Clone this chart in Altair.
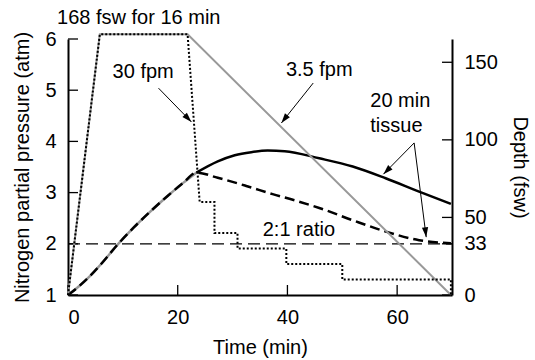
import altair as alt
import pandas as pd

# ---------------- data ----------------
# depth profiles (fsw) vs time (min)
time_direct = [0, 5.8, 21.8, 69.8]
depth_direct = [0, 168, 168, 0]

time_staged = [0, 5.8, 21.8, 24.0, 26.7, 26.7, 30.9, 30.9, 39.8, 39.8, 50.0, 50.0, 69.8, 69.8]
depth_staged = [0, 168, 168, 60, 60, 40, 40, 30, 30, 20, 20, 10, 10, 0]

# 20-min tissue nitrogen pressure (atm): common part, then the two branches
time_common = [0, 2, 4, 6, 9, 12, 15, 18, 21, 23.4]
pn2_common = [1.0, 1.17, 1.37, 1.60, 1.98, 2.32, 2.63, 2.92, 3.19, 3.39]

time_solid = [23.4, 27.3, 30.4, 33.4, 36.4, 39.5, 45.8, 51.9, 57.9, 64.0, 69.8]
pn2_solid = [3.39, 3.61, 3.73, 3.79, 3.82, 3.81, 3.67, 3.51, 3.28, 3.02, 2.78]

time_dashed = [23.4, 27.3, 32.5, 37.3, 41.6, 45.8, 51.9, 57.9, 64.0, 69.8]
pn2_dashed = [3.39, 3.29, 3.13, 2.97, 2.84, 2.70, 2.46, 2.24, 2.07, 2.01]

ratio_time = [0, 70]
ratio_pn2 = [2, 2]

# axis ticks
time_ticks = [0, 20, 40, 60]
pn2_ticks = [1, 2, 3, 4, 5, 6]
depth_ticks = [0, 33, 50, 100, 150]

# annotation texts and anchors (data units)
center_labels = ["168 fsw for 16 min", "30 fpm", "3.5 fpm"]
center_t = [12.9, 13.7, 45.8]
center_p = [6.41, 5.36, 5.39]

left_labels = ["20 min", "tissue", "2:1 ratio"]
left_t = [55.1, 55.1, 35.5]
left_p = [4.79, 4.30, 2.27]

arrow_t0 = [16.5, 44.7, 63.1, 63.1]
arrow_p0 = [5.04, 5.14, 3.97, 3.97]
arrow_t1 = [22.5, 38.9, 57.5, 65.3]
arrow_p1 = [4.38, 4.36, 3.36, 2.13]
arrow_angles = [136, 218, 225, 173]

# ---------------- frames ----------------
df_direct = pd.DataFrame({"t": time_direct, "d": depth_direct})
df_staged = pd.DataFrame({"t": time_staged, "d": depth_staged, "o": range(len(time_staged))})
df_common = pd.DataFrame({"t": time_common, "p": pn2_common})
df_solid = pd.DataFrame({"t": time_solid, "p": pn2_solid})
df_dashed = pd.DataFrame({"t": time_common + time_dashed[1:], "p": pn2_common + pn2_dashed[1:]})
df_ratio = pd.DataFrame({"t": ratio_time, "p": ratio_pn2})
df_center = pd.DataFrame({"txt": center_labels, "t": center_t, "p": center_p})
df_left = pd.DataFrame({"txt": left_labels, "t": left_t, "p": left_p})
df_arrow = pd.DataFrame({"t": arrow_t0, "p": arrow_p0, "t1": arrow_t1, "p1": arrow_p1})
df_heads = pd.DataFrame({"t": arrow_t1, "p": arrow_p1})

FONT = "Liberation Sans"
W, H = 384, 256

xs = alt.Scale(domain=[0, 70], nice=False, zero=False)
ps = alt.Scale(domain=[1, 6], nice=False, zero=False)
ds = alt.Scale(domain=[0, 165], nice=False, zero=False)

X_AXIS = alt.Axis(values=time_ticks, title="Time (min)", ticks=False, tickSize=0,
                  labelPadding=12, titlePadding=10, grid=False)
P_AXIS = alt.Axis(values=pn2_ticks, title="Nitrogen partial pressure (atm)", orient="left",
                  ticks=False, tickSize=0, labelPadding=12, titlePadding=12, grid=False)
D_AXIS = alt.Axis(values=depth_ticks, title="Depth (fsw)", orient="right",
                  ticks=False, tickSize=0, labelPadding=12, titlePadding=12, grid=False)


def X(field="t"):
    return alt.X(f"{field}:Q", scale=xs, axis=X_AXIS)


def YP(field="p"):
    return alt.Y(f"{field}:Q", scale=ps, axis=P_AXIS)


def YD(field="d"):
    return alt.Y(f"{field}:Q", scale=ds, axis=D_AXIS)


# ---------------- pressure (left) group ----------------
common = alt.Chart(df_common).mark_line(color="#999999", strokeWidth=2.5, interpolate="monotone").encode(
    x=X(), y=YP())
solid = alt.Chart(df_solid).mark_line(color="black", strokeWidth=2.5, interpolate="monotone").encode(
    x=X(), y=YP())
dashed = alt.Chart(df_dashed).mark_line(color="black", strokeWidth=2.5, strokeDash=[10, 5],
                                        interpolate="monotone").encode(x=X(), y=YP())
ratio = alt.Chart(df_ratio).mark_line(color="black", strokeWidth=1.2, strokeDash=[12, 6]).encode(
    x=X(), y=YP())

txt_c = alt.Chart(df_center).mark_text(font=FONT, fontSize=20, align="center", baseline="middle",
                                       color="black").encode(x=X(), y=YP(), text="txt:N")
txt_l = alt.Chart(df_left).mark_text(font=FONT, fontSize=20, align="left", baseline="middle",
                                     color="black").encode(x=X(), y=YP(), text="txt:N")

arrows = alt.Chart(df_arrow).mark_rule(color="black", strokeWidth=1).encode(
    x=X(), y=YP(), x2="t1:Q", y2="p1:Q")

HEAD = "M0,0L-0.32,1L0.32,1Z"
heads = []
for i in range(len(arrow_t1)):
    heads.append(
        alt.Chart(df_heads.iloc[[i]]).mark_point(shape=HEAD, filled=True, color="black", opacity=1,
                                                 size=380, angle=arrow_angles[i], strokeWidth=0).encode(
            x=X(), y=YP()))

tick_left = alt.Chart(pd.DataFrame({"p": pn2_ticks})).mark_rule(color="black", strokeWidth=1.3).encode(
    y=YP(), x=alt.value(0), x2=alt.value(10))
tick_bottom = alt.Chart(pd.DataFrame({"t": time_ticks})).mark_rule(color="black", strokeWidth=1.3).encode(
    x=X(), y=alt.value(H), y2=alt.value(H - 10))

left_group = alt.layer(common, solid, dashed, ratio, txt_c, txt_l, arrows, *heads, tick_left, tick_bottom)

# ---------------- depth (right) group ----------------
direct = alt.Chart(df_direct).mark_line(color="#999999", strokeWidth=2).encode(x=X(), y=YD())
staged = alt.Chart(df_staged).mark_line(color="black", strokeWidth=2, strokeDash=[2, 2]).encode(
    x=X(), y=YD(), order="o:Q")
tick_right = alt.Chart(pd.DataFrame({"d": depth_ticks})).mark_rule(color="black", strokeWidth=1.3).encode(
    y=YD(), x=alt.value(W), x2=alt.value(W - 10))

right_group = alt.layer(direct, staged, tick_right)

chart = alt.layer(left_group, right_group).resolve_scale(y="independent").properties(
    width=W, height=H,
    autosize=alt.AutoSizeParams(type="none"),
    padding={"left": 68, "top": 39, "right": 83, "bottom": 65},
).configure_view(stroke=None).configure_axis(
    labelFont=FONT, labelFontSize=20, labelColor="black",
    titleFont=FONT, titleFontSize=20, titleFontWeight="normal", titleColor="black",
    domainColor="black", domainWidth=2,
)

chart.save("out.html", embed_options={"renderer": "svg", "actions": False})
